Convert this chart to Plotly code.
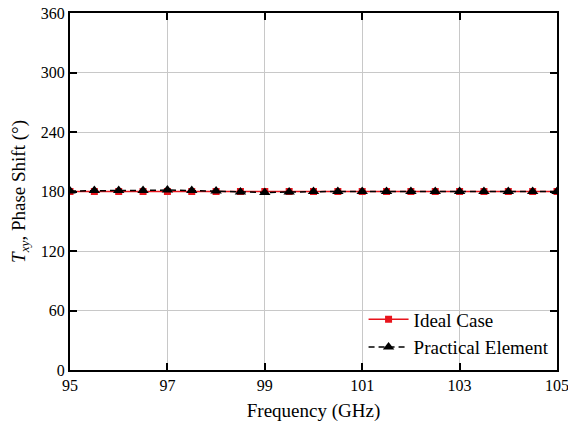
import plotly.graph_objects as go

freq = [95, 95.5, 96, 96.5, 97, 97.5, 98, 98.5, 99, 99.5, 100,
        100.5, 101, 101.5, 102, 102.5, 103, 103.5, 104, 104.5, 105]
ideal = [180] * 21
practical = [180.5, 181, 181, 181, 181.5, 181, 180.5, 179.5, 179, 179.5, 180,
             180, 180, 180, 180, 180, 180, 180, 180, 180, 180]

x_ticks = [95, 97, 99, 101, 103, 105]
y_ticks = [0, 60, 120, 180, 240, 300, 360]

font_family = "Liberation Serif"

fig = go.Figure()

fig.add_trace(go.Scatter(
    x=freq, y=ideal, name="Ideal Case", mode="lines+markers",
    line=dict(color="#e8141c", width=1.5),
    marker=dict(symbol="square", size=7, color="#e8141c"),
))
fig.add_trace(go.Scatter(
    x=freq, y=practical, name="Practical Element", mode="lines+markers",
    line=dict(color="black", width=1.5, dash="6px,4px"),
    marker=dict(symbol="triangle-up", size=10, color="black"),
))

axis_common = dict(
    showline=True, linecolor="black", linewidth=2, mirror="ticks",
    ticks="inside", ticklen=7, tickwidth=2, tickcolor="black",
    showgrid=True, gridcolor="#c8c8c8", gridwidth=1,
    zeroline=False, automargin=False, ticklabeloverflow="allow",
    tickfont=dict(family=font_family, size=16, color="black"),
)

fig.update_layout(
    width=568, height=428,
    paper_bgcolor="white", plot_bgcolor="white",
    margin=dict(l=70, r=11, t=13, b=58),
    font=dict(family=font_family, color="black"),
    showlegend=True,
    legend=dict(
        x=0.995, y=0.01, xanchor="right", yanchor="bottom",
        bgcolor="rgba(255,255,255,0)", borderwidth=0,
        font=dict(family=font_family, size=19, color="black"),
        tracegroupgap=0, itemwidth=40,
    ),
    xaxis=dict(
        axis_common, range=[95, 105], tickvals=x_ticks,
        title=dict(text="Frequency (GHz)", font=dict(family=font_family, size=19), standoff=10),
    ),
    yaxis=dict(
        axis_common, range=[0, 360], tickvals=y_ticks,
        title=dict(text="<i>T</i><sub><i>xy</i></sub>, Phase Shift (°)",
                   font=dict(family=font_family, size=19), standoff=10),
    ),
)

# drop the default 8px body margin so the figure sits at the page origin
fig.write_html("out.html", config={"displayModeBar": False},
               post_script="document.body.style.margin='0';")
